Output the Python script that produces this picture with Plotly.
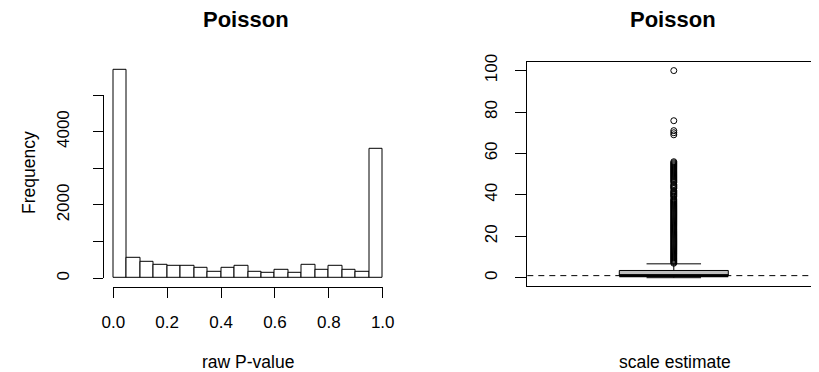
import plotly.graph_objects as go

# ---------------- data ----------------
bin_left = [0.00, 0.05, 0.10, 0.15, 0.20, 0.25, 0.30, 0.35, 0.40, 0.45,
            0.50, 0.55, 0.60, 0.65, 0.70, 0.75, 0.80, 0.85, 0.90, 0.95]
bin_width = 0.05
counts = [5673, 565, 455, 378, 332, 332, 290, 188, 290, 340,
          190, 150, 227, 150, 378, 227, 340, 227, 188, 3518]

hist_xticks = [0.0, 0.2, 0.4, 0.6, 0.8, 1.0]
hist_xticklabels = ["0.0", "0.2", "0.4", "0.6", "0.8", "1.0"]
hist_yticks = [0, 1000, 2000, 3000, 4000, 5000]
hist_yticklabels = ["0", "", "2000", "", "4000", ""]

box_pos = [1]
box_q1 = [0.9]
box_median = [1.0]
box_q3 = [3.5]
box_lower = [0.0]
box_upper = [6.7]
box_width = 0.372
box_outliers = [7.0, 7.5, 8.0, 8.5, 9.0, 9.5, 10.0, 10.5, 11.0, 11.5, 12.0, 12.5,
                13.0, 13.5, 14.0, 14.5, 15.0, 15.5, 16.0, 16.5, 17.0, 17.5, 18.0,
                18.5, 19.0, 19.5, 20.0, 20.5, 21.0, 21.5, 22.0, 22.5, 23.0, 23.5,
                24.0, 24.5, 25.0, 25.5, 26.0, 26.5, 27.0, 27.5, 28.0, 28.5, 29.0,
                29.5, 30.0, 30.5, 31.0, 31.5, 32.0, 32.5, 33.0, 33.5, 34.0, 34.5,
                35.0, 35.5, 36.0, 36.5, 37.0, 37.5, 38.0, 39.0, 39.5, 40.0, 40.5,
                41.0, 41.5, 42.0, 43.0, 43.5, 44.0, 44.5, 45.0, 46.0, 46.5, 47.0,
                47.5, 48.0, 48.5, 49.0, 49.5, 50.0, 50.5, 51.0, 51.5, 52.0, 52.5,
                53.0, 53.5, 54.0, 54.5, 55.0, 55.5, 56.0,
                69.0, 70.0, 71.0, 75.8, 100.0]
box_yticks = [0, 20, 40, 60, 80, 100]
ref_line = 1.0

# the page places the figure 8px from the top-left corner (body margin)
OFF = 8
W, H = 819 - OFF, 372 - OFF
FONT = "Liberation Sans, Arial, sans-serif"

def px(x):
    return (x - OFF) / W

def py(y):
    return 1 - (y - OFF) / H

centers = [b + bin_width / 2 for b in bin_left]

fig = go.Figure()

# histogram bars
fig.add_trace(go.Bar(x=centers, y=counts, width=bin_width,
                     marker=dict(color="white", line=dict(color="black", width=1)),
                     xaxis="x", yaxis="y", showlegend=False, hoverinfo="skip"))

# empty trace to create the R-style axis frame for the histogram
fig.add_trace(go.Scatter(x=[None], y=[None], xaxis="x3", yaxis="y3",
                         showlegend=False, hoverinfo="skip"))

# box plot
fig.add_trace(go.Box(x=box_pos, q1=box_q1, median=box_median, q3=box_q3,
                     lowerfence=box_lower, upperfence=box_upper,
                     width=box_width, whiskerwidth=0.5,
                     fillcolor="#bebebe", line=dict(color="black", width=1),
                     boxpoints=False, xaxis="x2", yaxis="y2",
                     showlegend=False, hoverinfo="skip"))
# thick median line
fig.add_trace(go.Scatter(x=[box_pos[0] - box_width / 2, box_pos[0] + box_width / 2],
                         y=[box_median[0], box_median[0]], mode="lines",
                         line=dict(color="black", width=3),
                         xaxis="x2", yaxis="y2", showlegend=False, hoverinfo="skip"))
# outliers
fig.add_trace(go.Scatter(x=[box_pos[0]] * len(box_outliers), y=box_outliers,
                         mode="markers",
                         marker=dict(symbol="circle-open", size=6, color="black",
                                     line=dict(width=1, color="black")),
                         xaxis="x2", yaxis="y2", showlegend=False, hoverinfo="skip",
                         cliponaxis=False))

tickfont = dict(family=FONT, size=17, color="black")
labfont = dict(family=FONT, size=17.5, color="black")
titlefont = dict(family=FONT, size=22, color="black")

fig.update_layout(
    template="none",
    width=W, height=H,
    margin=dict(l=0, r=0, t=0, b=0, pad=0, autoexpand=False),
    paper_bgcolor="white", plot_bgcolor="rgba(0,0,0,0)",
    bargap=0,
    xaxis=dict(domain=[px(102.5), px(393.5)], range=[-0.04, 1.04], visible=False,
               anchor="y", automargin=False),
    yaxis=dict(domain=[py(286.6), py(61.8)], range=[-227, 5900], visible=False,
               anchor="x", automargin=False),
    xaxis3=dict(domain=[px(113.3), px(382.7)], range=[0, 1], anchor="free",
                position=py(286.6), showline=True, linecolor="black", linewidth=1,
                ticks="outside", ticklen=10, tickcolor="black", tickwidth=1,
                tickvals=hist_xticks, ticktext=hist_xticklabels, tickfont=tickfont,
                showgrid=False, zeroline=False, ticklabelstandoff=10, automargin=False),
    yaxis3=dict(domain=[py(278.3), py(95)], range=[0, 5000], anchor="free",
                position=px(102.5), showline=True, linecolor="black", linewidth=1,
                ticks="outside", ticklen=10, tickcolor="black", tickwidth=1,
                tickvals=hist_yticks, ticktext=hist_yticklabels, tickfont=tickfont,
                tickangle=-90, showgrid=False, zeroline=False, ticklabelstandoff=17,
                automargin=False),
    xaxis2=dict(domain=[px(527.3), 1.0], range=[0.5, 1.4956], anchor="y2",
                showline=True, mirror=True, linecolor="black", linewidth=1,
                ticks="", showticklabels=False, showgrid=False, zeroline=False,
                automargin=False),
    yaxis2=dict(domain=[py(286.0), py(62.3)], range=[-4, 104], anchor="x2",
                showline=True, linecolor="black", linewidth=1,
                ticks="outside", ticklen=11, tickcolor="black", tickwidth=1,
                tickvals=box_yticks, ticktext=[str(v) for v in box_yticks],
                tickfont=tickfont, tickangle=-90, showgrid=False, zeroline=False,
                ticklabelstandoff=12, automargin=False),
    shapes=[dict(type="line", xref="x2 domain", x0=0, x1=1, yref="y2",
                 y0=ref_line, y1=ref_line,
                 line=dict(color="black", width=1, dash="6px,5px"))],
    annotations=[
        dict(text="<b>Poisson</b>", x=px(246), y=py(19), xref="paper", yref="paper",
             showarrow=False, xanchor="center", yanchor="middle", font=titlefont),
        dict(text="<b>Poisson</b>", x=px(673), y=py(19), xref="paper", yref="paper",
             showarrow=False, xanchor="center", yanchor="middle", font=titlefont),
        dict(text="raw P-value", x=px(248), y=py(362), xref="paper", yref="paper",
             showarrow=False, xanchor="center", yanchor="middle", font=labfont),
        dict(text="scale estimate", x=px(675), y=py(362), xref="paper", yref="paper",
             showarrow=False, xanchor="center", yanchor="middle", font=labfont),
        dict(text="Frequency", x=px(29), y=py(173), xref="paper", yref="paper",
             showarrow=False, xanchor="center", yanchor="middle", textangle=-90,
             font=labfont),
    ],
)

fig.write_html("out.html")
